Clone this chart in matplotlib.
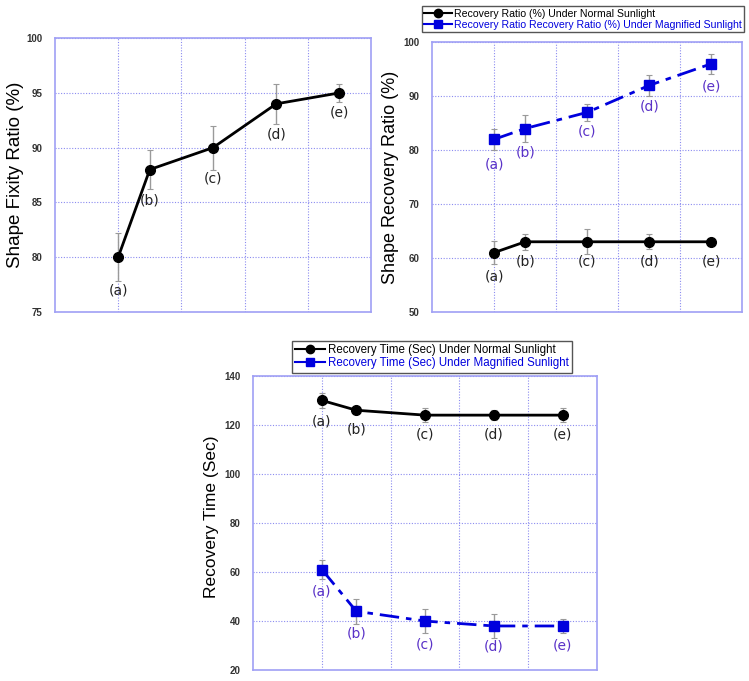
import matplotlib.pyplot as plt

# data
labels = ['(a)', '(b)', '(c)', '(d)', '(e)']
x_pos = [1, 1.5, 2.5, 3.5, 4.5]

fixity = [80, 88, 90, 94, 95]
fixity_err = [2.2, 1.8, 2.0, 1.8, 0.8]

ratio_normal = [61, 63, 63, 63, 63]
ratio_normal_err = [2.2, 1.5, 2.3, 1.4, 0.3]
ratio_magnified = [82, 84, 87, 92, 96]
ratio_magnified_err = [2.0, 2.5, 1.6, 2.0, 1.8]

time_normal = [130, 126, 124, 124, 124]
time_normal_err = [3, 1.5, 3, 2, 3]
time_magnified = [61, 44, 40, 38, 38]
time_magnified_err = [4, 5, 5, 5, 3]

BLACK = '#000000'
BLUE = '#0000dd'
PURPLE = '#5a32c8'
SPINE = '#a0a0f5'
GRID = '#8c8cf0'
DASH = (0, (7, 2.5, 2, 2.5))

plt.rcParams['font.family'] = ['DejaVu Sans']


def style_axes(ax, ylim, yticks, ylabel, lab_size, lab_xy):
    ax.set_xlim(0, 5)
    ax.set_ylim(*ylim)
    ax.set_xticks([1, 2, 3, 4])
    ax.set_xticklabels([])
    ax.set_yticks(yticks)
    ax.set_yticklabels([str(t) for t in yticks], fontsize=7, fontweight='bold',
                       color='#333333', family='Liberation Sans')
    ax.tick_params(length=0, pad=9)
    ax.grid(True, linestyle=(0, (1, 1.5)), color=GRID, linewidth=0.8)
    ax.set_axisbelow(True)
    for s in ax.spines.values():
        s.set_color(SPINE)
        s.set_linewidth(1.2)
    ax.set_ylabel(ylabel, fontsize=lab_size, family='Liberation Sans')
    ax.yaxis.set_label_coords(*lab_xy)


def draw_series(ax, y, err, color, marker, ls, lab_color, offsets):
    ax.errorbar(x_pos, y, yerr=err, color=color, marker=marker, markersize=7,
                linestyle=ls, linewidth=2, ecolor='#9a9a9a', elinewidth=1,
                capsize=2.5, capthick=0.8, zorder=3)
    for xi, yi, lb, (dx, dy) in zip(x_pos, y, labels, offsets):
        ax.annotate(lb, (xi, yi), xytext=(dx, dy), textcoords='offset points',
                    ha='center', va='center', fontsize=10, color=lab_color)


fig = plt.figure(figsize=(7.49, 6.81), dpi=100)

# panel 1: shape fixity
ax1 = fig.add_axes([0.0734, 0.542, 0.422, 0.402])
style_axes(ax1, (75, 100), [75, 80, 85, 90, 95, 100], 'Shape Fixity Ratio (%)',
           13.5, (-0.098, 0.5))
draw_series(ax1, fixity, fixity_err, BLACK, 'o', '-', '#222222',
            [(0, -24), (0, -22), (0, -22), (0, -22), (0, -14)])

# panel 2: shape recovery
ax2 = fig.add_axes([0.577, 0.542, 0.414, 0.396])
style_axes(ax2, (50, 100), [50, 60, 70, 80, 90, 100], 'Shape Recovery Ratio (%)',
           13, (-0.106, 0.5))
draw_series(ax2, ratio_normal, ratio_normal_err, BLACK, 'o', '-', '#222222',
            [(0, -17), (0, -14), (0, -14), (0, -14), (0, -14)])
draw_series(ax2, ratio_magnified, ratio_magnified_err, BLUE, 's', DASH, PURPLE,
            [(0, -18), (0, -17), (0, -14), (0, -15), (0, -16)])
h1 = plt.Line2D([], [], color=BLACK, marker='o', markersize=6, linewidth=1.5)
h2 = plt.Line2D([], [], color=BLUE, marker='s', markersize=6, linewidth=1.5)
leg2 = fig.legend([h1, h2], ['Recovery Ratio (%) Under Normal Sunlight',
                             'Recovery Ratio Recovery Ratio (%) Under Magnified Sunlight'],
                  loc='upper left', bbox_to_anchor=(0.556, 0.999),
                  fancybox=False, edgecolor='#555555', framealpha=1,
                  handlelength=2.6, handletextpad=0.2, borderpad=0.25,
                  labelspacing=0.1, prop={'family': 'Liberation Sans', 'size': 7.6})
leg2.get_texts()[1].set_color(BLUE)

# panel 3: recovery time
ax3 = fig.add_axes([0.338, 0.016, 0.459, 0.432])
style_axes(ax3, (20, 140), [20, 40, 60, 80, 100, 120, 140], 'Recovery Time (Sec)',
           12.5, (-0.099, 0.52))
draw_series(ax3, time_normal, time_normal_err, BLACK, 'o', '-', '#222222',
            [(0, -15), (0, -14), (0, -14), (0, -14), (0, -14)])
draw_series(ax3, time_magnified, time_magnified_err, BLUE, 's', DASH, PURPLE,
            [(0, -16), (0, -16), (0, -17), (0, -15), (0, -14)])
leg3 = fig.legend([h1, h2], ['Recovery Time (Sec) Under Normal Sunlight',
                             'Recovery Time (Sec) Under Magnified Sunlight'],
                  loc='upper left', bbox_to_anchor=(0.382, 0.508),
                  fancybox=False, edgecolor='#555555', framealpha=1,
                  handlelength=2.6, handletextpad=0.2, borderpad=0.3,
                  labelspacing=0.1, prop={'family': 'Liberation Sans', 'size': 8.3})
leg3.get_texts()[1].set_color(BLUE)

fig.savefig('out.png', dpi=100)
